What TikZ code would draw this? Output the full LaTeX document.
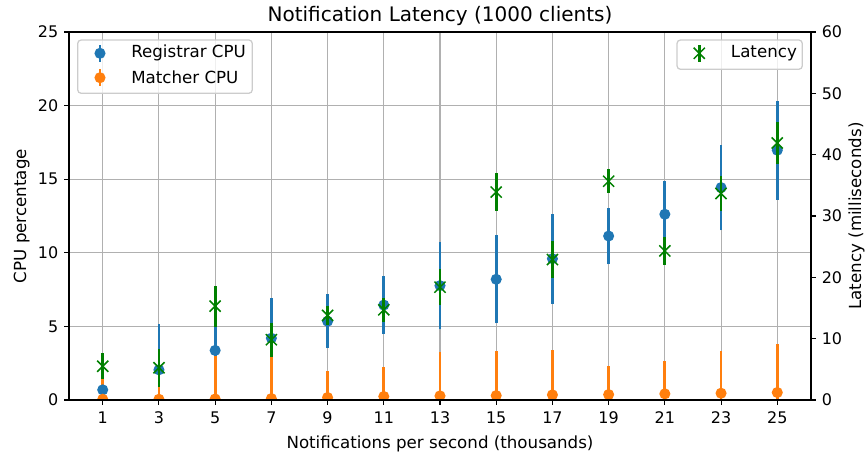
\documentclass[tikz,border=0pt]{standalone}
\usepackage{fontspec}
\setmainfont{DejaVu Sans}
\definecolor{mblue}{HTML}{1F77B4}
\definecolor{morange}{HTML}{FF7F0E}
\definecolor{mgreen}{HTML}{008000}
\definecolor{mgrid}{HTML}{B0B0B0}
\definecolor{legedge}{HTML}{CCCCCC}
\tikzset{
  gridline/.style={draw=mgrid, line width=0.8pt},
  spine/.style={draw=black, line width=1.2pt, line cap=rect},
  tickmark/.style={draw=black, line width=0.8pt},
  ticklabel/.style={font=\fontsize{11.5}{13}\selectfont, inner sep=0pt},
  axlabel/.style={font=\fontsize{12}{14}\selectfont, inner sep=0pt},
  legtext/.style={font=\fontsize{12}{14}\selectfont, inner sep=0pt, anchor=west},
  bluebar/.style={draw=mblue, line width=2pt},
  orangebar/.style={draw=morange, line width=2pt},
  greenbar/.style={draw=mgreen, line width=2pt},
  bluedot/.style={fill=mblue, draw=none},
  orangedot/.style={fill=morange, draw=none},
  greenx/.style={draw=mgreen, line width=1.1pt},
  legbox/.style={draw=legedge, line width=0.9pt, fill=white, fill opacity=0.8, rounded corners=2.5pt},
}
\newcommand\XP[1]{69+(#1+0.2)*28.106}
\begin{document}
\begin{tikzpicture}[x=0.72pt,y=-0.72pt]
\useasboundingbox (0,0) rectangle (867,454);
% grid
\foreach \xv in {1,3,...,25} {
  \pgfmathsetmacro\px{\XP{\xv}}
  \draw[gridline] (\px,32) -- (\px,400);
}
\foreach \yv in {5,10,15,20} {
  \pgfmathsetmacro\py{400-\yv*14.72}
  \draw[gridline] (69,\py) -- (811,\py);
}
% data
\begin{scope}
\clip (69,32) rectangle (811,400);
% blue bars: x/value/err
\foreach \xv/\bv/\be in {1/0.69/0.5,3/2.05/3.08,5/3.37/1.65,7/4.2/2.72,9/5.35/1.82,11/6.45/1.97,13/7.77/2.95,15/8.2/3.0,17/9.6/3.06,19/11.14/1.93,21/12.62/2.26,23/14.43/2.9,25/16.97/3.35} {
  \pgfmathsetmacro\px{\XP{\xv}}
  \draw[bluebar] (\px,{400-(\bv-\be)*14.72}) -- (\px,{400-(\bv+\be)*14.72});
}
% orange bars: x/value/top
\foreach \xv/\ov/\ot in {1/0.05/1.4,3/0.05/0.87,5/0.07/2.96,7/0.1/2.89,9/0.17/2.0,11/0.24/2.21,13/0.28/3.23,15/0.3/3.3,17/0.35/3.37,19/0.37/2.3,21/0.42/2.64,23/0.46/3.3,25/0.51/3.82} {
  \pgfmathsetmacro\px{\XP{\xv}}
  \draw[orangebar] (\px,{400-(2*\ov-\ot)*14.72}) -- (\px,{400-\ot*14.72});
}
\foreach \xv/\bv in {1/0.69,3/2.05,5/3.37,7/4.2,9/5.35,11/6.45,13/7.77,15/8.2,17/9.6,19/11.14,21/12.62,23/14.43,25/16.97} {
  \pgfmathsetmacro\px{\XP{\xv}}
  \fill[bluedot] (\px,{400-\bv*14.72}) circle[radius=4pt];
}
\foreach \xv/\ov in {1/0.05,3/0.05,5/0.07,7/0.1,9/0.17,11/0.24,13/0.28,15/0.3,17/0.35,19/0.37,21/0.42,23/0.46,25/0.51} {
  \pgfmathsetmacro\px{\XP{\xv}}
  \fill[orangedot] (\px,{400-\ov*14.72}) circle[radius=4pt];
}
% green (latency, right axis): x/value/err
\foreach \xv/\gv/\ge in {1/5.5/2.1,3/5.26/3.1,5/15.3/3.35,7/9.83/2.8,9/13.8/1.6,11/14.7/1.95,13/18.4/2.95,15/33.9/3.05,17/22.9/3.0,19/35.67/1.95,21/24.3/2.25,23/33.67/2.85,25/41.9/3.37} {
  \pgfmathsetmacro\px{\XP{\xv}}
  \draw[greenbar] (\px,{400-(\gv-\ge)*6.1333}) -- (\px,{400-(\gv+\ge)*6.1333});
}
\foreach \xv/\gv in {1/5.5,3/5.26,5/15.3,7/9.83,9/13.8,11/14.7,13/18.4,15/33.9,17/22.9,19/35.67,21/24.3,23/33.67,25/41.9} {
  \pgfmathsetmacro\px{\XP{\xv}}
  \pgfmathsetmacro\py{400-\gv*6.1333}
  \draw[greenx] ([shift={(-4pt,-4pt)}]\px,\py) -- ([shift={(4pt,4pt)}]\px,\py);
  \draw[greenx] ([shift={(-4pt,4pt)}]\px,\py) -- ([shift={(4pt,-4pt)}]\px,\py);
}
\end{scope}
% spines
\draw[spine] (69,32) rectangle (811,400);
% ticks and labels
\foreach \xv in {1,3,...,25} {
  \pgfmathsetmacro\px{\XP{\xv}}
  \draw[tickmark] (\px,400) -- (\px,404.9);
  \node[ticklabel, anchor=base] (xt\xv) at (\px,423.3) {\xv};
}
\foreach \yv in {0,5,...,25} {
  \pgfmathsetmacro\py{400-\yv*14.72}
  \draw[tickmark] (69,\py) -- (64.1,\py);
  \node[ticklabel, anchor=east] (yl\yv) at (58.5,\py) {\yv};
}
\foreach \yv in {0,10,...,60} {
  \pgfmathsetmacro\py{400-\yv*6.1333}
  \draw[tickmark] (811,\py) -- (815.9,\py);
  \node[ticklabel, anchor=west] (yr\yv) at (821.5,\py) {\yv};
}
% axis labels
\node[font=\fontsize{14.4}{17}\selectfont, inner sep=0pt, anchor=base] (title) at (440,21.7) {Notification Latency (1000 clients)};
\node[axlabel, anchor=base] (xlabel) at (440,448.3) {Notifications per second (thousands)};
\node[axlabel, rotate=90] (ylabelL) at (21.7,216) {CPU percentage};
\node[axlabel, rotate=90] (ylabelR) at (856.5,216) {Latency (milliseconds)};
% left legend
\draw[legbox] (77.7,40) rectangle (252.3,93.3);
\draw[bluebar] (100,45) -- (100,61.6);
\fill[bluedot] (100,53.3) circle[radius=4pt];
\node[legtext] (legReg) at (131,53.3) {Registrar CPU};
\draw[orangebar] (100,69.4) -- (100,86);
\fill[orangedot] (100,77.7) circle[radius=4pt];
\node[legtext] (legMat) at (131,77.7) {Matcher CPU};
% right legend
\draw[legbox] (677,40) rectangle (802.3,69.3);
\draw[greenbar] (699.3,45) -- (699.3,61.6);
\draw[greenx] ([shift={(-4pt,-4pt)}]699.3,53.3) -- ([shift={(4pt,4pt)}]699.3,53.3);
\draw[greenx] ([shift={(-4pt,4pt)}]699.3,53.3) -- ([shift={(4pt,-4pt)}]699.3,53.3);
\node[legtext] (legLat) at (730.7,53.3) {Latency};
\end{tikzpicture}
\end{document}
